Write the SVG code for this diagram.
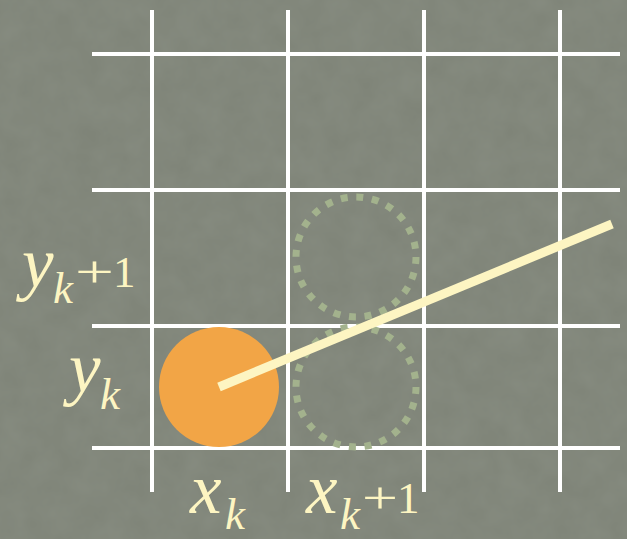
<svg xmlns="http://www.w3.org/2000/svg" width="627" height="539" viewBox="0 0 627 539">
<defs>
<filter id="tex" x="0" y="0" width="100%" height="100%">
<feTurbulence type="fractalNoise" baseFrequency="0.04" numOctaves="3" seed="3"/>
<feColorMatrix type="matrix" values="0 0 0 0 0.35  0 0 0 0 0.38  0 0 0 0 0.33  0 0 0 0.25 0"/>
</filter>
</defs>
<style>
.grid line{stroke:#ffffff;stroke-width:4}
.dot{fill:none;stroke:#a3b28d;stroke-width:7;stroke-dasharray:7 8.7}
.lbl{font-family:"Liberation Serif","Times New Roman",serif;fill:#fdf5c2}
.v{font-style:italic;font-size:71px}
.s{font-style:italic;font-size:45px}
.n{font-size:45px}
</style>
<rect width="627" height="539" fill="#7e8377"/>
<rect width="627" height="539" filter="url(#tex)"/>
<g class="grid" id="grid">
<line x1="152" y1="10" x2="152" y2="492"/>
<line x1="288" y1="10" x2="288" y2="492"/>
<line x1="424" y1="10" x2="424" y2="492"/>
<line x1="560" y1="10" x2="560" y2="492"/>
<line x1="92" y1="54" x2="620" y2="54"/>
<line x1="92" y1="190" x2="620" y2="190"/>
<line x1="92" y1="326" x2="620" y2="326"/>
<line x1="92" y1="448" x2="620" y2="448"/>
</g>
<g id="pixel-current"><circle cx="219" cy="387" r="60" fill="#f2a546"/></g>
<g id="pixel-upper"><circle class="dot" cx="356" cy="257" r="60"/></g>
<g id="pixel-lower"><circle class="dot" cx="356" cy="387" r="60"/></g>
<g id="connectors"><line x1="219" y1="387" x2="612" y2="224" stroke="#fdf5c2" stroke-width="9"/></g>
<g id="labels">
<text class="lbl"><tspan class="v" x="22" y="287">y</tspan><tspan class="s" x="53" y="303">k</tspan><tspan class="n" x="75" y="287" textLength="39" lengthAdjust="spacingAndGlyphs">+</tspan><tspan class="n" x="113" y="287">1</tspan></text>
<text class="lbl"><tspan class="v" x="69" y="392">y</tspan><tspan class="s" x="100" y="409">k</tspan></text>
<text class="lbl"><tspan class="v" x="190" y="513">x</tspan><tspan class="s" x="225" y="529">k</tspan></text>
<text class="lbl"><tspan class="v" x="306" y="513">x</tspan><tspan class="s" x="340" y="529">k</tspan><tspan class="n" x="362" y="513" textLength="36" lengthAdjust="spacingAndGlyphs">+</tspan><tspan class="n" x="397" y="513">1</tspan></text>
</g>
</svg>
